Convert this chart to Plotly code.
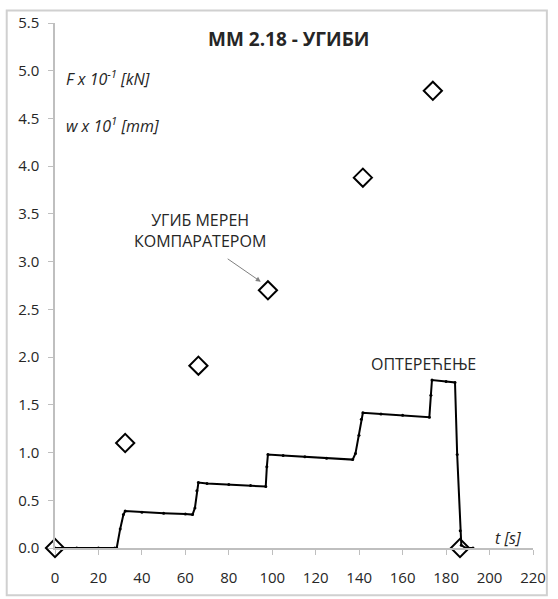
import plotly.graph_objects as go

# Load curve (F x 10^-1 kN)
t_load = [0, 10, 20, 27.5, 28.4, 30.0, 31.5, 32.3, 40, 50, 60, 63.3, 64.4, 65.3, 66.0,
          70, 80, 90, 97.0, 97.5, 98.0, 105, 115, 125, 137.0, 138.3, 139.9, 141.0,
          141.7, 150, 160, 172.3, 173.0, 173.5, 180, 184.1, 185.1, 186.5, 187.0,
          189, 192.4]
f_load = [0, 0, 0, 0, 0, 0.20, 0.35, 0.387, 0.375, 0.365, 0.355, 0.35, 0.42, 0.60, 0.685,
          0.675, 0.665, 0.655, 0.644, 0.85, 0.98, 0.97, 0.955, 0.94, 0.926, 0.99, 1.18, 1.35,
          1.416, 1.405, 1.39, 1.371, 1.60, 1.76, 1.745, 1.735, 0.98, 0.18, 0.03,
          0.0, 0.0]

# Deflection measured by dial gauge (w x 10^1 mm)
t_defl = [0, 32.3, 66.0, 98.0, 141.7, 173.9, 186.4]
w_defl = [0, 1.10, 1.91, 2.70, 3.88, 4.79, 0]

FONT = "Open Sans"
TXT = "#262626"

fig = go.Figure()

fig.add_trace(go.Scatter(
    x=t_load, y=f_load, mode="lines+markers",
    line=dict(color="black", width=2),
    marker=dict(color="black", size=3),
    showlegend=False, hoverinfo="skip"))

fig.add_trace(go.Scatter(
    x=t_defl, y=w_defl, mode="markers", cliponaxis=False,
    marker=dict(symbol="diamond-open", size=14, color="black",
                line=dict(color="black", width=2)),
    showlegend=False))

annots = [
    dict(x=107.3, y=5.33, text="<b>MM 2.18 - УГИБИ</b>", font=dict(size=19)),
    dict(x=4.2, y=4.92, text="<i>F x 10<sup>-1</sup> [kN]</i>", xanchor="left"),
    dict(x=4.2, y=4.43, text="<i>w x 10<sup>1</sup> [mm]</i>", xanchor="left"),
    dict(x=66.7, y=3.33, text="УГИБ МЕРЕН<br>КОМПАРАТЕРОМ"),
    dict(x=169.7, y=1.93, text="ОПТЕРЕЋЕЊЕ"),
    dict(x=208.6, y=0.1, text="<i>t [s]</i>", font=dict(size=16)),
]
for a in annots:
    a.setdefault("font", dict(size=16))
    a["font"] = dict(family=FONT, color=TXT, **a["font"])
    fig.add_annotation(xref="x", yref="y", showarrow=False, **a)

# arrow pointing at the measured deflection
fig.add_annotation(x=94.7, y=2.79, ax=78.8, ay=3.04, xref="x", yref="y",
                   axref="x", ayref="y", text="", showarrow=True,
                   arrowhead=2, arrowsize=1, arrowwidth=1, arrowcolor="#808080")

# outer chart border
fig.add_shape(type="rect", xref="paper", yref="paper",
              x0=-0.101, x1=1.029, y0=-0.090, y1=1.024,
              line=dict(color="#d0d0d0", width=2))

fig.update_xaxes(range=[0, 220], tickvals=list(range(0, 221, 20)),
                 showgrid=False, zeroline=False, showline=True,
                 linecolor="#bfbfbf", linewidth=1.5,
                 ticks="outside", ticklen=5, tickcolor="#bfbfbf",
                 ticklabelstandoff=10,
                 tickfont=dict(family=FONT, size=15, color=TXT))
fig.update_yaxes(range=[0, 5.5], tickvals=[i * 0.5 for i in range(12)],
                 tickformat=".1f",
                 showgrid=False, zeroline=False, showline=True,
                 linecolor="#bfbfbf", linewidth=1.5,
                 ticks="outside", ticklen=5, tickcolor="#bfbfbf",
                 ticklabelstandoff=6,
                 tickfont=dict(family=FONT, size=15, color=TXT))

fig.update_layout(width=558, height=599,
                  margin=dict(l=55, r=19, t=17, b=50),
                  plot_bgcolor="white", paper_bgcolor="white")

fig.write_html("out.html", config={"displayModeBar": False},
               post_script="document.body.style.margin='0px';"
                           "document.body.style.overflow='hidden';")
